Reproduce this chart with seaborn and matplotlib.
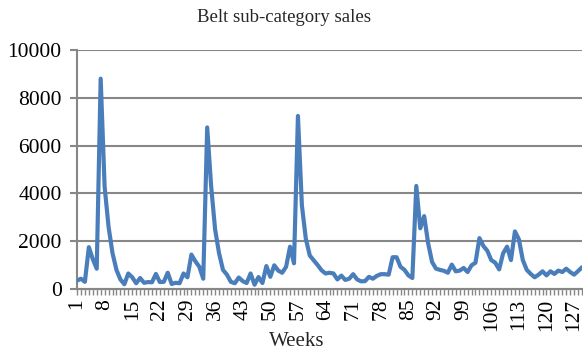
import matplotlib
matplotlib.use("Agg")
import matplotlib.pyplot as plt
import numpy as np
import pandas as pd
import seaborn as sns

# Weekly sales of the belt sub-category
sales = [
    350, 430, 300, 1750, 1250, 850, 8800, 4280, 2600, 1500,
    800, 400, 200, 650, 490, 240, 460, 260, 290, 280,
    630, 290, 300, 680, 210, 260, 240, 650, 490, 1440,
    1160, 930, 430, 6760, 4300, 2500, 1500, 800, 600, 300,
    240, 480, 330, 250, 650, 180, 500, 250, 960, 510,
    990, 770, 680, 930, 1770, 1075, 7240, 3500, 2100, 1400,
    1200, 1000, 780, 650, 680, 650, 400, 560, 380, 430,
    620, 400, 320, 330, 510, 430, 550, 620, 620, 600,
    1330, 1330, 930, 800, 570, 460, 4310, 2540, 3050, 1910,
    1130, 850, 800, 760, 680, 1020, 740, 770, 880, 710,
    990, 1100, 2130, 1800, 1600, 1210, 1100, 820, 1490, 1770,
    1210, 2410, 2080, 1210, 800, 630, 490, 600, 740, 570,
    740, 630, 770, 710, 850, 710, 600, 750, 910,
]
weeks = list(range(1, len(sales) + 1))
label_weeks = list(range(1, len(sales) + 1, 7))
y_ticks = [0, 2000, 4000, 6000, 8000, 10000]

df = pd.DataFrame({"week": weeks, "sales": sales})

sns.set_style("white")
plt.rcParams["font.family"] = ["Liberation Serif", "DejaVu Serif"]

W, H = 583, 353
fig = plt.figure(figsize=(W / 100, H / 100), dpi=100)
ax = fig.add_axes([77 / W, (H - 289) / H, (582 - 77) / W, (289 - 50) / H])

grid_col = "#878787"
sns.lineplot(data=df, x="week", y="sales", ax=ax, color="#4a7ebb",
             linewidth=3.0, solid_joinstyle="round", solid_capstyle="round",
             zorder=3)

ax.set_xlim(1, len(sales))
ax.set_ylim(0, 10000)
ax.set_yticks(y_ticks)
ax.set_yticklabels([str(v) for v in y_ticks], fontsize=15.5)
ax.yaxis.grid(True, color=grid_col, linewidth=1.5)
ax.set_axisbelow(True)

ax.set_xticks(weeks)
ax.set_xticklabels([str(w) if w in label_weeks else "" for w in weeks],
                   rotation=90, fontsize=15.5, va="top")

for side in ("top", "right"):
    ax.spines[side].set_visible(False)
for side in ("left", "bottom"):
    ax.spines[side].set_color(grid_col)
    ax.spines[side].set_linewidth(1.5)

ax.tick_params(axis="y", length=5, width=1.5, color=grid_col, pad=6,
               labelcolor="black", left=True)
ax.tick_params(axis="x", length=4, width=1.0, color=grid_col, pad=3,
               labelcolor="black", bottom=True, direction="out")

ax.set_xlabel("")
ax.set_ylabel("")
fig.text(284 / W, 1 - 18 / H, "Belt sub-category sales", ha="center",
         va="center", fontsize=13.5)
fig.text(297 / W, 1 - 342 / H, "Weeks", ha="center", va="center", fontsize=15)

fig.savefig("out.png", dpi=100)
